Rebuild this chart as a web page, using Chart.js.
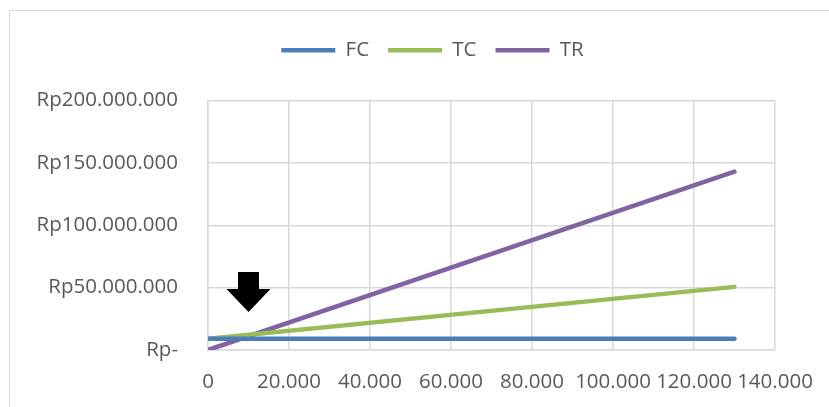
<!DOCTYPE html>
<html>
<head>
<meta charset="utf-8">
<script src="https://cdn.jsdelivr.net/npm/chart.js@4/dist/chart.umd.min.js"></script>
<style>
  html, body { margin: 0; padding: 0; background: #ffffff; }
  #wrap { position: relative; width: 829px; height: 407px; overflow: hidden; }
  #frame {
    position: absolute; left: 9px; top: 10px; width: 900px; height: 500px;
    border-left: 1.5px solid #d9d9d9; border-top: 1.5px solid #d9d9d9;
  }
  #chart { position: absolute; left: 0; top: 0; }
</style>
</head>
<body>
<div id="wrap">
  <div id="frame"></div>
  <canvas id="chart" width="829" height="407"></canvas>
</div>
<script>
// Units produced (Q) at the start and end of each cost / revenue line
const units = [0, 130000];
// Fixed cost, total cost and total revenue in Rupiah
const fcValues = [9000000, 9000000];
const tcValues = [9000000, 50600000];
const trValues = [0, 143000000];
const seriesNames = ['FC', 'TC', 'TR'];

// Break-even marker (in data units)
const markerUnits = 10000;
const markerTop = 62500000;
const markerTip = 30500000;

const colors = ['#4a7ebb', '#9bbb59', '#8064a2'];
const FONT = '"Open Sans", "Liberation Sans", sans-serif';
const FONT_SIZE = 20.5;
const TEXT = '#595959';
const GRID = '#d9d9d9';

function dotted(n) {
  return Math.round(n).toString().replace(/\B(?=(\d{3})+(?!\d))/g, '.');
}
function toPoints(values) {
  return units.map((u, i) => ({ x: u, y: values[i] }));
}

const datasets = [fcValues, tcValues, trValues].map((vals, i) => ({
  label: seriesNames[i],
  data: toPoints(vals),
  borderColor: colors[i],
  backgroundColor: colors[i],
  borderWidth: 4.5,
  borderCapStyle: 'round',
  pointRadius: 0,
  pointHoverRadius: 0,
  tension: 0
}));

// Extra room under the legend, and legend centred over the whole frame
const legendSpacing = {
  id: 'legendSpacing',
  beforeLayout(chart) {
    const lg = chart.legend;
    if (lg && !lg._spaced) {
      const fit = lg.fit;
      lg.fit = function () { fit.call(this); this.height += 30; };
      lg._spaced = true;
    }
  },
  afterLayout(chart) {
    const lg = chart.legend;
    if (lg) { lg.left += 45; lg.right += 45; }
  }
};

// Black down arrow pointing at the break-even crossing
const arrowPlugin = {
  id: 'arrowMarker',
  afterDatasetsDraw(chart) {
    const xs = chart.scales.x, ys = chart.scales.y;
    const cx = xs.getPixelForValue(markerUnits);
    const top = ys.getPixelForValue(markerTop);
    const tip = ys.getPixelForValue(markerTip);
    const headBase = tip - 23;
    const ctx = chart.ctx;
    ctx.save();
    ctx.fillStyle = '#000000';
    ctx.beginPath();
    ctx.moveTo(cx - 10.5, top);
    ctx.lineTo(cx + 10.5, top);
    ctx.lineTo(cx + 10.5, headBase);
    ctx.lineTo(cx + 22, headBase);
    ctx.lineTo(cx, tip);
    ctx.lineTo(cx - 22, headBase);
    ctx.lineTo(cx - 10.5, headBase);
    ctx.closePath();
    ctx.fill();
    ctx.restore();
  }
};

new Chart(document.getElementById('chart'), {
  type: 'line',
  data: { datasets },
  plugins: [legendSpacing, arrowPlugin],
  options: {
    responsive: false,
    animation: false,
    events: [],
    layout: { padding: { top: 21, left: 0, right: 54, bottom: 0 } },
    plugins: {
      tooltip: { enabled: false },
      legend: {
        position: 'top',
        labels: {
          usePointStyle: true,
          pointStyle: 'line',
          pointStyleWidth: 54,
          padding: 19,
          color: TEXT,
          font: { family: FONT, size: FONT_SIZE }
        }
      }
    },
    scales: {
      x: {
        type: 'linear',
        min: 0,
        max: 140000,
        grid: { color: GRID, lineWidth: 1.5, drawTicks: false },
        border: { color: GRID, width: 1.5 },
        afterFit(scale) {
          scale.height = 57;
          scale.paddingLeft = 0;
          scale.paddingRight = 0;
        },
        ticks: {
          stepSize: 20000,
          padding: 20,
          maxRotation: 0,
          autoSkip: false,
          color: TEXT,
          font: { family: FONT, size: FONT_SIZE },
          callback: (v) => dotted(v)
        }
      },
      y: {
        min: 0,
        max: 200000000,
        grid: { color: GRID, lineWidth: 1.5, drawTicks: false },
        border: { color: GRID, width: 1.5 },
        afterFit(scale) { scale.width = 208; },
        ticks: {
          stepSize: 50000000,
          padding: 30,
          color: TEXT,
          font: { family: FONT, size: FONT_SIZE },
          callback: (v) => v === 0 ? 'Rp-' : 'Rp' + dotted(v)
        }
      }
    }
  }
});
</script>
</body>
</html>
